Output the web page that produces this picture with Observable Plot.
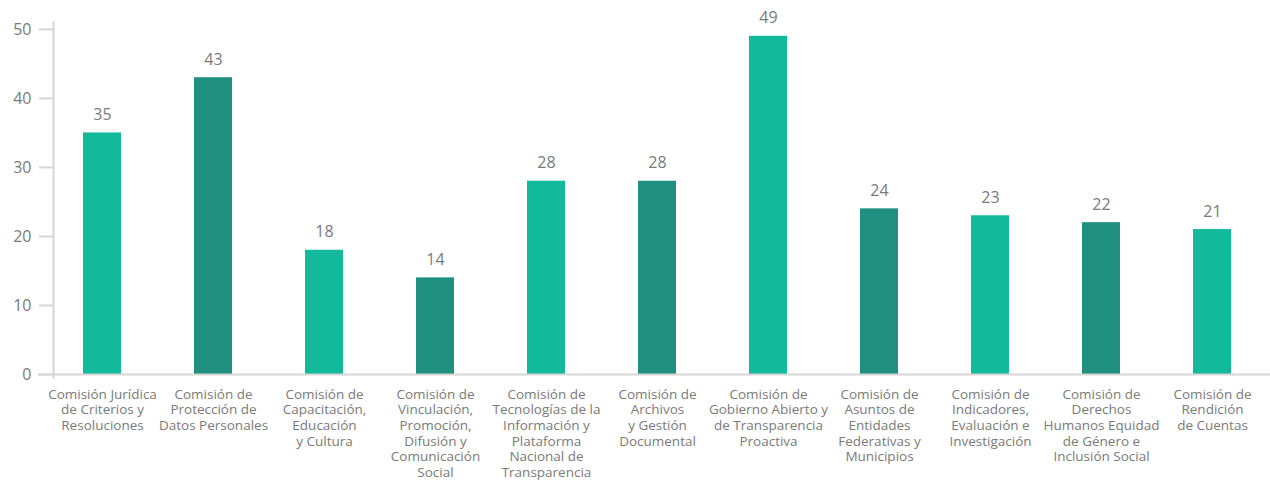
<!DOCTYPE html>
<html><head><meta charset="utf-8">
<script src="https://cdn.jsdelivr.net/npm/d3@7"></script>
<script src="https://cdn.jsdelivr.net/npm/@observablehq/plot@0.6"></script>
<style>body{margin:0;background:#fff}</style>
</head><body><div id="chart"></div>
<script>
const categories = [
  "Jurídica", "Protección de Datos", "Capacitación", "Vinculación", "Tecnologías",
  "Archivos", "Gobierno Abierto", "Entidades Federativas", "Indicadores", "Derechos Humanos", "Rendición de Cuentas"
];
const labels = [
  "Comisión Jurídica\nde Criterios y\nResoluciones",
  "Comisión de\nProtección de\nDatos Personales",
  "Comisión de\nCapacitación,\nEducación\ny Cultura",
  "Comisión de\nVinculación,\nPromoción,\nDifusión y\nComunicación\nSocial",
  "Comisión de\nTecnologías de la\nInformación y\nPlataforma\nNacional de\nTransparencia",
  "Comisión de\nArchivos\ny Gestión\nDocumental",
  "Comisión de\nGobierno Abierto y\nde Transparencia\nProactiva",
  "Comisión de\nAsuntos de\nEntidades\nFederativas y\nMunicipios",
  "Comisión de\nIndicadores,\nEvaluación e\nInvestigación",
  "Comisión de\nDerechos\nHumanos Equidad\nde Género e\nInclusión Social",
  "Comisión de\nRendición\nde Cuentas"
];
const values = [35, 43, 18, 14, 28, 28, 49, 24, 23, 22, 21];
const shades = ["light", "dark", "light", "dark", "light", "dark", "light", "dark", "light", "dark", "light"];
const shadeDomain = ["light", "dark"];
const shadeColors = ["#13b99b", "#1f907f"];
const yTicks = [0, 10, 20, 30, 40, 50];

const data = categories.map((c, i) => ({c, v: values[i], s: shades[i]}));
const labelOf = new Map(categories.map((c, i) => [c, labels[i]]));

const chart = Plot.plot({
  width: 1270, height: 480,
  marginTop: 22, marginBottom: 106, marginLeft: 53, marginRight: 10,
  style: {fontFamily: "'Open Sans', sans-serif", background: "#fff"},
  x: {domain: categories, paddingInner: 0.66, paddingOuter: 0.2525, label: null},
  y: {domain: [0, 51], label: null},
  color: {domain: shadeDomain, range: shadeColors},
  marks: [
    Plot.frame({anchor: "left", stroke: "#d6d6d6", strokeWidth: 2, insetBottom: -3}),
    Plot.axisY({ticks: yTicks, tickSize: 14, tickPadding: 8, fontSize: 16, stroke: "#d6d6d6", strokeWidth: 2, strokeOpacity: 1, fill: "#7a7a7a", label: null}),
    Plot.barY(data, {x: "c", y: "v", fill: "s"}),
    Plot.ruleY([0], {stroke: "#d6d6d6", strokeWidth: 2, insetLeft: -15, insetRight: -10}),
    Plot.text(data, {x: "c", y: "v", text: d => String(d.v), lineAnchor: "bottom", dy: -13, fontSize: 16, fill: "#7a7a7a"}),
    Plot.axisX({tickSize: 0, tickPadding: 13, tickFormat: d => labelOf.get(d), fontSize: 13.5, lineHeight: 1.16, fill: "#7a7a7a", label: null})
  ]
});
document.getElementById("chart").appendChild(chart);
</script>
</body></html>
